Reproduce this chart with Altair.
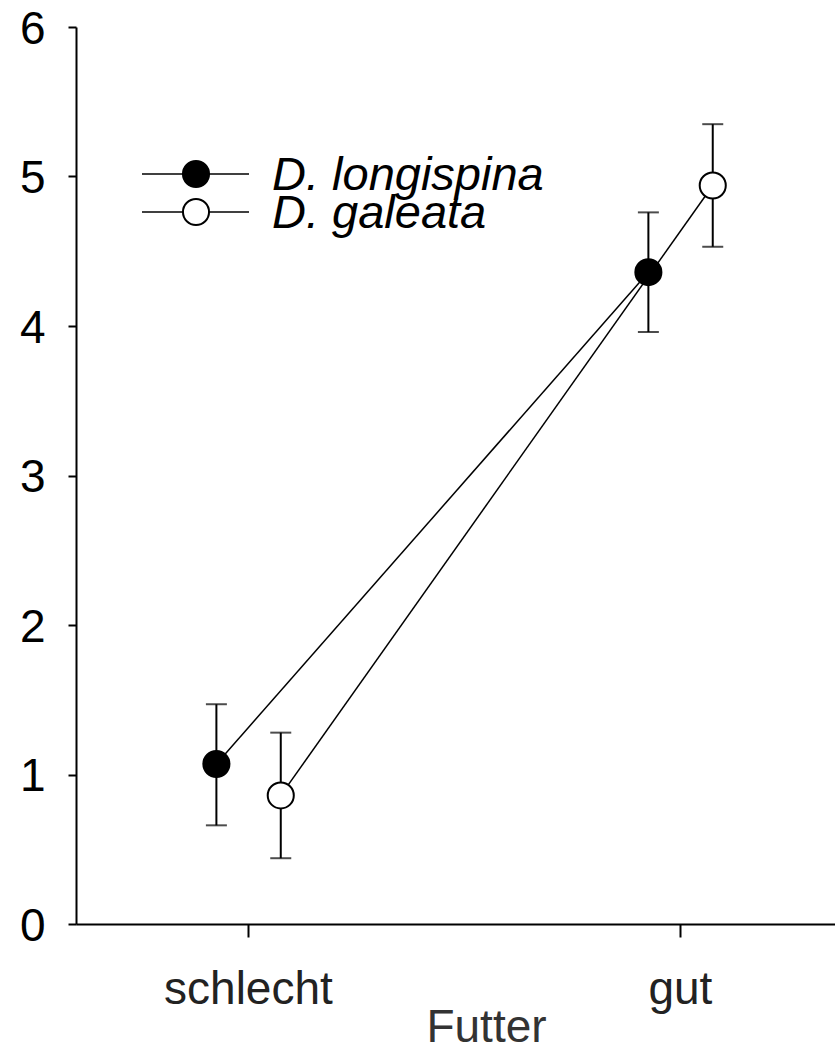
import altair as alt
import pandas as pd

categories = ["schlecht", "gut"]
species = ["D. longispina", "D. galeata"]
mean_longispina = [1.07, 4.36]
low_longispina = [0.66, 3.96]
high_longispina = [1.47, 4.76]
mean_galeata = [0.86, 4.94]
low_galeata = [0.44, 4.53]
high_galeata = [1.28, 5.35]
y_ticks = [0, 1, 2, 3, 4, 5, 6]

rows = []
for sp, m, lo, hi in [
    (species[0], mean_longispina, low_longispina, high_longispina),
    (species[1], mean_galeata, low_galeata, high_galeata),
]:
    for i, c in enumerate(categories):
        rows.append({"Futter": c, "species": sp, "mean": m[i], "lo": lo[i], "hi": hi[i]})
df = pd.DataFrame(rows)

cat_js = "[" + ",".join(f"'{c}'" for c in categories) + "]"
FONT = "Liberation Sans"
SYM = 680

base = alt.Chart(df).transform_calculate(
    pos=f"indexof({cat_js}, datum.Futter) + 1 + (datum.species == '{species[0]}' ? -0.073 : 0.076)"
)

x_axis = alt.Axis(
    values=[1, 2],
    labelExpr=f"{cat_js}[datum.value - 1]",
    title="Futter",
    tickSize=13,
    labelPadding=30,
    labelBaseline="top",
    labelColor="#222222",
    titleX=410,
    titleY=117,
    titleAlign="center",
    titleBaseline="alphabetic",
    titleFontSize=46,
    titleFontWeight="normal",
    titleColor="#333333",
    titleFont=FONT,
)
x_scale = alt.Scale(domain=[0.602, 2.359], nice=False, zero=False)
y_axis = alt.Axis(values=y_ticks, title=None, tickSize=8, labelPadding=23, labelOffset=2, format="d")
y_scale = alt.Scale(domain=[0, 6], nice=False, zero=True)

X = alt.X("pos:Q", scale=x_scale, axis=x_axis)
fill_scale = alt.Scale(domain=species, range=["black", "white"])

lines = base.mark_line(color="black", strokeWidth=1.5).encode(
    x=X,
    y=alt.Y("mean:Q", scale=y_scale, axis=y_axis),
    detail="species:N",
    order="pos:Q",
)

bars = base.mark_rule(color="black", strokeWidth=2).encode(
    x=X,
    y=alt.Y("lo:Q", scale=y_scale, axis=y_axis),
    y2="hi:Q",
)

caps_lo = base.mark_tick(color="black", orient="horizontal", size=21, thickness=2).encode(
    x=X, y=alt.Y("lo:Q", scale=y_scale, axis=y_axis)
)
caps_hi = base.mark_tick(color="black", orient="horizontal", size=21, thickness=2).encode(
    x=X, y=alt.Y("hi:Q", scale=y_scale, axis=y_axis)
)

points = base.mark_point(
    shape="circle", filled=True, size=SYM, stroke="black", strokeWidth=2, opacity=1
).encode(
    x=X,
    y=alt.Y("mean:Q", scale=y_scale, axis=y_axis),
    fill=alt.Fill("species:N", scale=fill_scale, legend=None),
)

# legend drawn inside the plot area (pixel offsets relative to plot origin)
legend_layers = []
for i, sp in enumerate(species):
    yrow = 147 + 38 * i
    ldf = pd.DataFrame({"species": [sp]})
    legend_layers.append(
        alt.Chart(ldf).mark_rule(color="black", strokeWidth=1.5).encode(
            x=alt.value(66), x2=alt.value(173), y=alt.value(yrow)
        )
    )
    legend_layers.append(
        alt.Chart(ldf).mark_point(
            shape="circle", filled=True, size=SYM, stroke="black", strokeWidth=2, opacity=1
        ).encode(
            x=alt.value(120), y=alt.value(yrow),
            fill=alt.Fill("species:N", scale=fill_scale, legend=None),
        )
    )
    legend_layers.append(
        alt.Chart(ldf).mark_text(
            align="left", baseline="alphabetic", fontSize=47, fontStyle="italic",
            font=FONT, color="black"
        ).encode(x=alt.value(196), y=alt.value(yrow + 16), text="species:N")
    )

chart = alt.layer(lines, bars, caps_lo, caps_hi, points, *legend_layers).properties(
    width=759,
    height=897,
    padding={"left": 76, "top": 27, "right": 0, "bottom": 127},
    autosize="none",
    background="white",
).configure_view(stroke=None).configure_axis(
    grid=False,
    domainColor="black",
    domainWidth=2,
    tickColor="black",
    tickWidth=2,
    labelFont=FONT,
    labelFontSize=46,
    labelColor="black",
)

chart.save("out.html", embed_options={"renderer": "svg", "actions": False})
